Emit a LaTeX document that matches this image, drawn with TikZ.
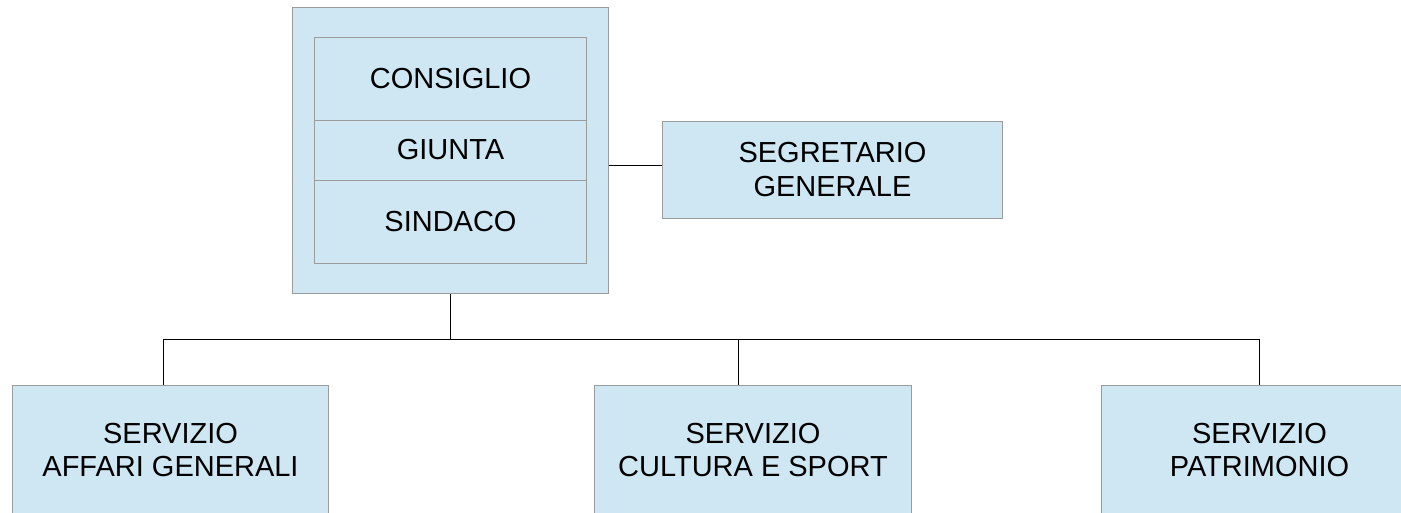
\documentclass[tikz,border=0pt]{standalone}
\usepackage{fontspec}
\setmainfont{Liberation Sans}
\usepackage{tikz}
\usetikzlibrary{positioning}
\definecolor{boxblue}{RGB}{207,230,243}
\definecolor{boxgray}{RGB}{155,155,155}
\tikzstyle{block} = [rectangle, minimum width=6.34cm, minimum height=2.6cm, text centered, align=center, draw=boxgray, fill=boxblue, inner sep=0pt, line width=0.55pt, font=\fontsize{16.5}{19.3}\selectfont]
\tikzstyle{row} = [block, minimum width=5.46cm, minimum height=1.66cm, outer sep=0pt]
\tikzstyle{line} = [black, line width=0.45pt]

\begin{document}
\begin{tikzpicture}[x=0.02cm, y=-0.02cm]
        \useasboundingbox (0,0) rectangle (1401,512);
        \node (organi) [block, minimum height=5.74cm] at (450.5,150.5) {};
        \node (giunta) [row, minimum height=1.2cm] at (450.5,150) {GIUNTA};
        \node (consiglio) [row, above=0pt of giunta] {CONSIGLIO};
        \node (sindaco) [row, below=0pt of giunta] {SINDACO};
        \node (segretario) [block, minimum width=6.82cm, minimum height=1.94cm] at (832.5,169.5) {SEGRETARIO\\GENERALE};
        \node (affari) [block] at (170.5,450) {SERVIZIO\\AFFARI GENERALI};
        \node (cultura) [block] at (753,450) {SERVIZIO\\CULTURA E SPORT};
        \node (patrimonio) [block] at (1259.5,450) {SERVIZIO\\PATRIMONIO};
        % collegamenti
        \draw [line] (segretario.west) ++(0,-4) coordinate (sg) -- (sg -| organi.east);
        \coordinate (ja) at (163,339);
        \coordinate (jc) at (738,339);
        \coordinate (jp) at (1259,339);
        \draw [line] (organi.south) -- (organi.south |- ja);
        \draw [line] (ja) -- (jp);
        \draw [line] (ja) -- (ja |- affari.north);
        \draw [line] (jc) -- (jc |- cultura.north);
        \draw [line] (jp) -- (jp |- patrimonio.north);
    \end{tikzpicture}
\end{document}
